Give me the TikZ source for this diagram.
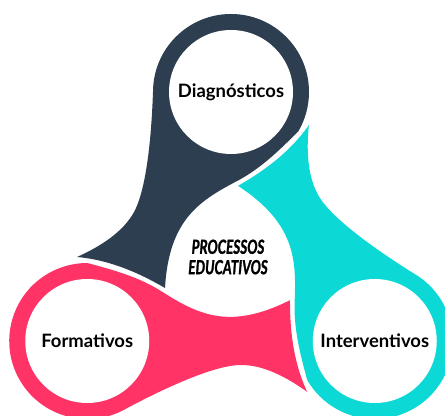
\documentclass[tikz,border=0pt]{standalone}
\usepackage{fontspec}
\setmainfont{Lato}
\newfontfamily\condfont[FakeStretch=0.7, FakeBold=1.3]{Lato}
\definecolor{diagblue}{HTML}{2C3E50}
\definecolor{formpink}{HTML}{FF3366}
\definecolor{intcyan}{HTML}{0CD9D6}

\tikzset{
  lobe/.style={insert path={(67.5,127) .. controls (45,104) and (28,89) .. (8,78)
      .. controls (-30,58) and (-62,40) .. (-66,-30)
      .. controls (-90,-16) and (-120,-2) .. (-154,1)
      .. controls (-125,14) and (-104,30) .. (-95,50)
      .. controls (-86,70) and (-80,110) .. (-78,166)
      arc[start angle=180, end angle=-30, radius=78] -- cycle}},
  hole/.style={circle, fill=white, inner sep=0pt, minimum size=2.48cm,
    font=\bfseries\fontsize{10.5}{12}\selectfont},
  title/.style={align=center, inner sep=0pt,
    font=\condfont\bfseries\itshape\fontsize{11}{11.6}\selectfont}
}

\begin{document}
\begin{tikzpicture}[x=0.02cm, y=0.02cm]
  \useasboundingbox (0,0) rectangle (445,415);
  \clip (0,0) rectangle (445,415);
  \begin{scope}[shift={(231,157)}]
    % three lobes, the same shape turned round the centre
    \fill[diagblue, lobe];
    \fill[formpink, rotate=120, lobe];
    \fill[intcyan, rotate=-120, lobe];

    \node[hole] (diag) at (90:166) {Diagnósticos};
    \node[hole] (form) at (210:166) {Formativos};
    \node[hole] (interv) at (330:166) {Interventivos};

    \node[title] (proc) at (-3,1) {PROCESSOS\\EDUCATIVOS};
  \end{scope}
\end{tikzpicture}
\end{document}
